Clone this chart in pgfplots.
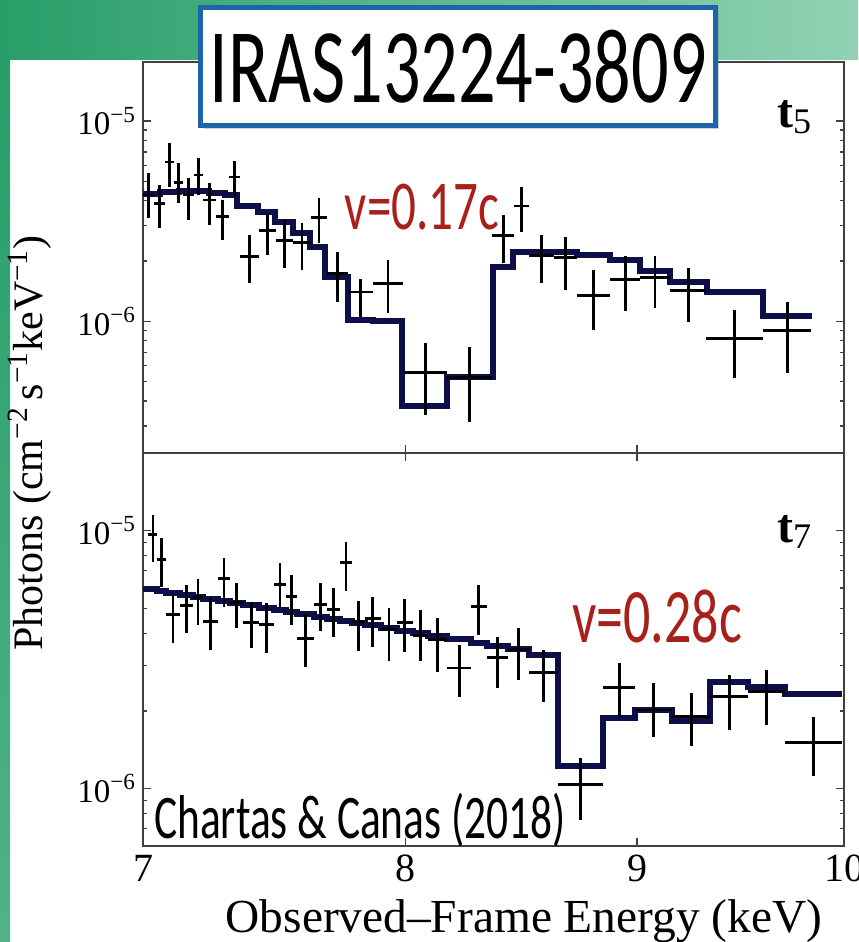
\documentclass[border=0pt]{standalone}
\usepackage{fontspec}
\setmainfont{Liberation Serif}
\newfontfamily\hand[FakeStretch=0.70]{Carlito}
\usepackage{pgfplots}
\pgfplotsset{compat=1.18}
\usepackage{pgfplotstable}
\usetikzlibrary{shadows}
\definecolor{modelc}{RGB}{14,14,72}
\definecolor{annored}{RGB}{168,32,26}
\definecolor{titleblue}{RGB}{30,100,170}
\definecolor{gA}{RGB}{40,158,105}
\definecolor{gB}{RGB}{145,210,180}
\definecolor{gL}{RGB}{50,165,112}

\pgfplotstableread{
E ex F ep em
7.0197 0.0197 4.27e-6 1.23e-6 1.00e-6
7.0590 0.0198 3.89e-6 0.90e-6 0.97e-6
7.0950 0.0163 6.24e-6 1.52e-6 1.56e-6
7.1276 0.0163 4.95e-6 1.22e-6 1.06e-6
7.1640 0.0200 4.27e-6 0.92e-6 1.07e-6
7.2005 0.0165 5.37e-6 1.16e-6 1.10e-6
7.2410 0.0240 4.03e-6 0.87e-6 1.01e-6
7.2890 0.0241 3.35e-6 0.68e-6 0.81e-6
7.3336 0.0205 5.25e-6 1.06e-6 1.08e-6
7.3899 0.0358 2.11e-6 0.58e-6 0.56e-6
7.4579 0.0323 2.85e-6 0.62e-6 0.71e-6
7.5227 0.0326 2.54e-6 0.66e-6 0.70e-6
7.5900 0.0348 2.48e-6 0.61e-6 0.68e-6
7.6559 0.0312 3.31e-6 0.81e-6 0.86e-6
7.7283 0.0413 1.74e-6 0.47e-6 0.49e-6
7.8193 0.0497 1.40e-6 0.22e-6 0.35e-6
7.9296 0.0606 1.55e-6 0.47e-6 0.45e-6
8.0806 0.0905 5.56e-7 2.20e-7 2.17e-7
8.2656 0.0946 5.25e-7 2.16e-7 2.12e-7
8.4073 0.0471 2.69e-6 0.70e-6 0.74e-6
8.4867 0.0324 3.76e-6 0.92e-6 0.97e-6
8.5736 0.0545 2.14e-6 0.55e-6 0.59e-6
8.6789 0.0508 2.09e-6 0.54e-6 0.66e-6
8.8036 0.0739 1.35e-6 0.45e-6 0.45e-6
8.9458 0.0683 1.62e-6 0.49e-6 0.50e-6
9.0834 0.0694 1.66e-6 0.45e-6 0.50e-6
9.2373 0.0846 1.43e-6 0.41e-6 0.44e-6
9.4591 0.1372 8.22e-7 3.13e-7 3.03e-7
9.7148 0.1186 9.02e-7 3.43e-7 3.52e-7
}\topdata

\pgfplotstableread{
E ex F ep em
7.0348 0.0170 9.65e-6 1.88e-6 2.07e-6
7.0671 0.0153 7.72e-6 1.67e-6 1.65e-6
7.1077 0.0253 4.72e-6 0.93e-6 1.04e-6
7.1567 0.0237 5.12e-6 1.06e-6 1.09e-6
7.1987 0.0183 5.50e-6 1.02e-6 1.18e-6
7.2447 0.0277 4.44e-6 1.06e-6 0.98e-6
7.2946 0.0223 6.52e-6 1.34e-6 1.44e-6
7.3402 0.0234 5.26e-6 1.03e-6 1.05e-6
7.3955 0.0320 4.40e-6 0.91e-6 0.88e-6
7.4550 0.0275 4.32e-6 0.94e-6 0.95e-6
7.5054 0.0229 6.18e-6 1.34e-6 1.10e-6
7.5494 0.0211 5.55e-6 1.20e-6 1.23e-6
7.6034 0.0329 3.81e-6 0.91e-6 0.84e-6
7.6626 0.0263 5.17e-6 1.12e-6 1.07e-6
7.7135 0.0246 4.94e-6 1.07e-6 1.06e-6
7.7617 0.0237 7.52e-6 1.55e-6 1.67e-6
7.8113 0.0259 4.44e-6 0.91e-6 1.01e-6
7.8691 0.0320 4.56e-6 0.99e-6 1.01e-6
7.9334 0.0323 4.13e-6 0.90e-6 1.00e-6
7.9983 0.0326 4.40e-6 1.05e-6 1.00e-6
8.0616 0.0308 3.92e-6 1.02e-6 0.79e-6
8.1317 0.0393 3.78e-6 0.82e-6 0.94e-6
8.2212 0.0502 2.94e-6 0.68e-6 0.67e-6
8.3041 0.0328 5.08e-6 1.10e-6 1.13e-6
8.3827 0.0459 3.22e-6 0.66e-6 0.76e-6
8.4738 0.0453 3.46e-6 0.75e-6 0.81e-6
8.5824 0.0633 2.82e-6 0.64e-6 0.65e-6
8.7458 0.1001 1.036e-6 0.28e-6 0.28e-6
8.9185 0.0726 2.46e-6 0.62e-6 0.56e-6
9.0766 0.0855 2.02e-6 0.56e-6 0.44e-6
9.2515 0.0895 1.90e-6 0.46e-6 0.44e-6
9.4321 0.0912 2.27e-6 0.50e-6 0.58e-6
9.6137 0.0905 2.38e-6 0.51e-6 0.61e-6
9.8470 0.1428 1.51e-6 0.39e-6 0.39e-6
}\botdata

\begin{document}
\begin{tikzpicture}
\clip (0,0) rectangle (429pt,471pt);
\fill[white] (0,0) rectangle (429pt,471pt);
\shade[left color=gA, right color=gB] (0,441pt) rectangle (429pt,471pt);
\shade[top color=gA, bottom color=gL!85!white] (0,0) rectangle (5pt,441pt);

% top panel (t5)
\begin{axis}[scale only axis, width=350.5pt, height=195.5pt,
  at={(71.5pt,244.5pt)}, anchor=south west,
  xmode=log, ymode=log, xmin=7, xmax=10, ymin=2.2e-7, ymax=1.97e-5,
  xtick={7,8,9,10}, xticklabels={},
  axis line style={black!75, line width=0.8pt},
  tick style={black!75, line width=0.7pt},
  major tick length=4pt, minor tick length=2.2pt,
  ytick={1e-6,1e-5},
  yticklabels={10\textsuperscript{−6},10\textsuperscript{−5}},
  yticklabel style={font=\fontsize{16.5}{18}\selectfont},
  minor ytick={3e-7,4e-7,5e-7,6e-7,7e-7,8e-7,9e-7,2e-6,3e-6,4e-6,5e-6,6e-6,7e-6,8e-6,9e-6}]
\addplot[const plot, draw=modelc, line width=3pt, mark=none, line join=miter] coordinates {
(7.000,4.30e-6) (7.060,4.40e-6) (7.130,4.45e-6) (7.240,4.38e-6) (7.300,4.27e-6)
(7.343,3.76e-6) (7.422,3.51e-6) (7.486,3.13e-6) (7.555,2.75e-6) (7.621,2.34e-6)
(7.679,1.66e-6) (7.770,1.01e-6) (7.869,1.00e-6) (7.986,3.76e-7) (8.171,5.25e-7)
(8.364,1.86e-6) (8.450,2.21e-6) (8.730,2.14e-6) (8.878,2.02e-6) (9.014,1.78e-6)
(9.153,1.57e-6) (9.327,1.40e-6) (9.596,1.06e-6) (9.838,1.06e-6)};
\addplot[draw=none, mark=none,
  error bars/x dir=both, error bars/x explicit,
  error bars/y dir=both, error bars/y explicit,
  error bars/error mark=none,
  error bars/error bar style={draw=black, line width=1.4pt, solid}]
  table[x=E, y=F, x error=ex, y error plus=ep, y error minus=em] \topdata;
\end{axis}

% bottom panel (t7)
\begin{axis}[scale only axis, width=350.5pt, height=196.5pt,
  at={(71.5pt,48pt)}, anchor=south west,
  xmode=log, ymode=log, xmin=7, xmax=10, ymin=6.0e-7, ymax=2.0e-5,
  xtick={7,8,9,10}, xticklabels={7,8,9,10},
  xticklabel style={font=\fontsize{20}{22}\selectfont, yshift=-1pt},
  axis line style={black!75, line width=0.8pt},
  tick style={black!75, line width=0.7pt},
  major tick length=4pt, minor tick length=2.2pt,
  ytick={1e-6,1e-5},
  yticklabels={10\textsuperscript{−6},10\textsuperscript{−5}},
  yticklabel style={font=\fontsize{16.5}{18}\selectfont},
  minor ytick={7e-7,8e-7,9e-7,2e-6,3e-6,4e-6,5e-6,6e-6,7e-6,8e-6,9e-6}]
\addplot[const plot, draw=modelc, line width=3pt, mark=none, line join=miter] coordinates {
(7.000,5.95e-6) (7.0518,5.85e-6) (7.0824,5.75e-6) (7.1330,5.64e-6) (7.1804,5.55e-6)
(7.2170,5.45e-6) (7.2723,5.34e-6) (7.3168,5.25e-6) (7.3635,5.13e-6) (7.4275,5.02e-6)
(7.4825,4.92e-6) (7.5283,4.84e-6) (7.5705,4.74e-6) (7.6363,4.64e-6) (7.6889,4.55e-6)
(7.7380,4.47e-6) (7.7854,4.39e-6) (7.8371,4.30e-6) (7.9011,4.20e-6) (7.9657,4.10e-6)
(8.0308,4.01e-6) (8.0924,3.91e-6) (8.1710,3.79e-6) (8.2713,3.68e-6) (8.3368,3.59e-6)
(8.4285,3.48e-6) (8.5191,3.31e-6) (8.6457,1.22e-6) (8.8459,1.88e-6) (8.9911,2.02e-6)
(9.1620,1.83e-6) (9.3409,2.60e-6) (9.5232,2.48e-6) (9.7042,2.33e-6) (9.9898,2.33e-6)};
\addplot[draw=none, mark=none,
  error bars/x dir=both, error bars/x explicit,
  error bars/y dir=both, error bars/y explicit,
  error bars/error mark=none,
  error bars/error bar style={draw=black, line width=1.4pt, solid}]
  table[x=E, y=F, x error=ex, y error plus=ep, y error minus=em] \botdata;
\end{axis}

% labels
\node[rotate=90, font=\fontsize{21}{24}\selectfont] at (15pt,249.5pt)
  {Photons (cm\textsuperscript{−2}\,s\textsuperscript{−1}keV\textsuperscript{−1})};
\node[font=\fontsize{23.7}{26}\selectfont] at (262pt,10.5pt) {Observed--Frame Energy (keV)};
\node[font=\fontsize{24}{26}\selectfont] at (397pt,412.5pt) {\textbf{t}\raisebox{-0.3ex}{\fontsize{18}{20}\selectfont 5}};
\node[font=\fontsize{24}{26}\selectfont] at (397pt,205pt) {\textbf{t}\raisebox{-0.3ex}{\fontsize{18}{20}\selectfont 7}};
\node[text=annored, font=\hand\fontsize{35}{40}\selectfont] at (211pt,367.5pt) {v=0.17c};
\node[text=annored, font=\hand\fontsize{38.5}{44}\selectfont] at (328.5pt,162.5pt) {v=0.28c};
\node[font=\hand\fontsize{31}{36}\selectfont, inner sep=0.5pt] at (180pt,61pt) {Chartas \& Canas (2018)};
\node[draw=titleblue, line width=2.5pt, fill=white, minimum width=257.5pt, minimum height=59pt,
  inner sep=0pt, drop shadow={shadow xshift=1.5pt, shadow yshift=-2pt, opacity=0.35},
  font=\hand\fontsize{53}{60}\selectfont] at (229pt,437.75pt) {IRAS13224-3809};
\end{tikzpicture}
\end{document}
